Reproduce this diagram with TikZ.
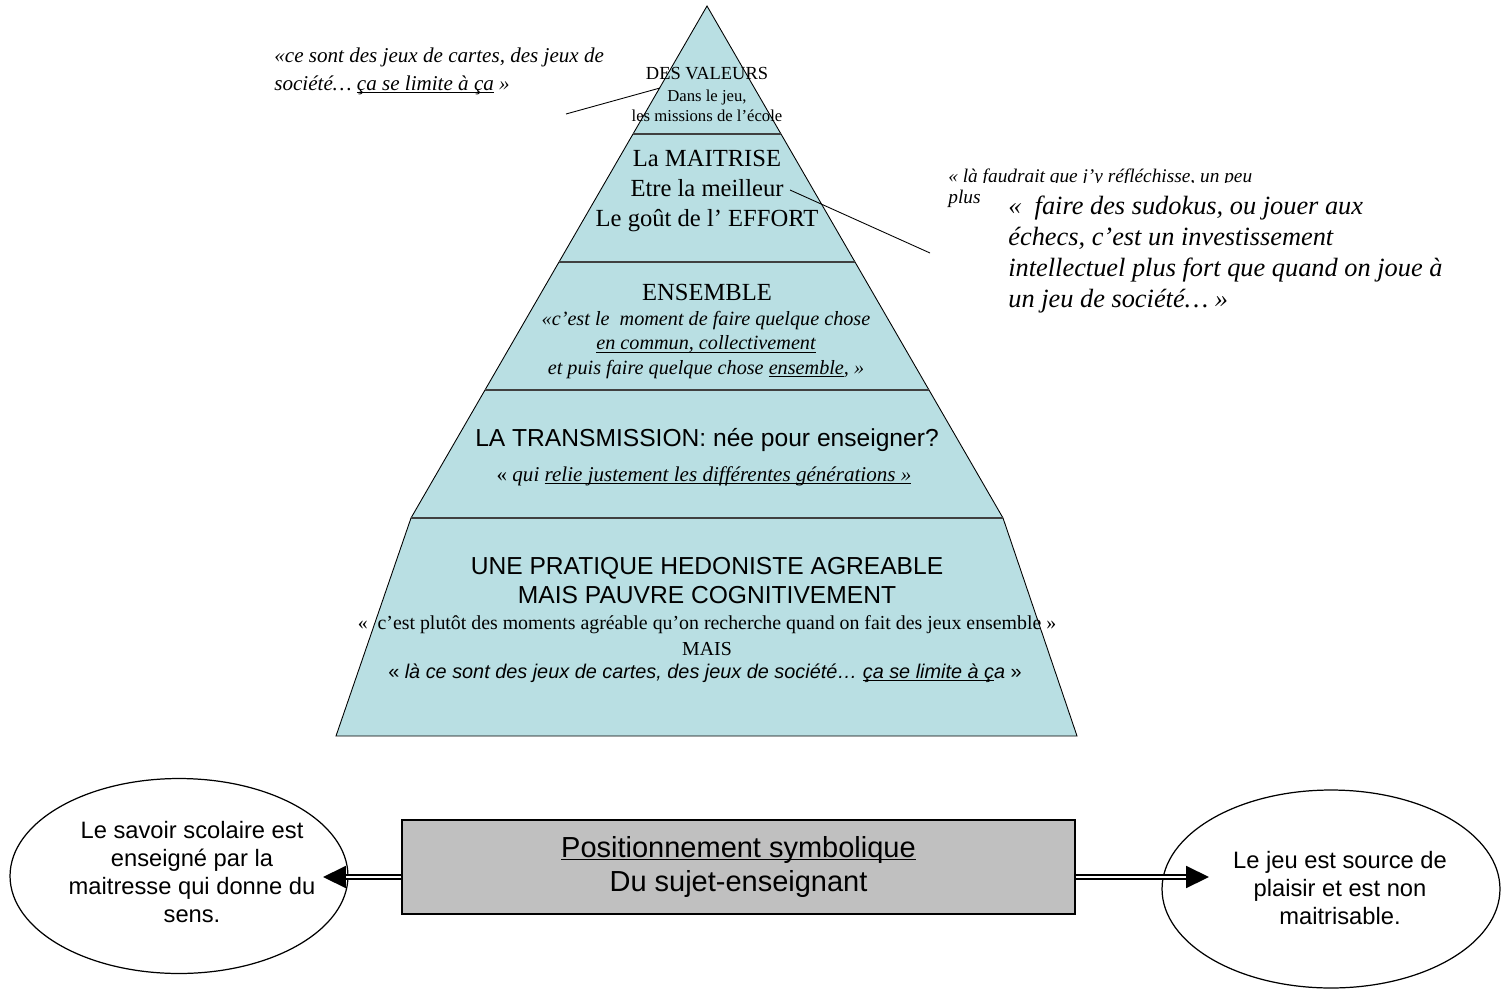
\documentclass[tikz,border=0pt]{standalone}
\usepackage{fontspec}
\setmainfont{Liberation Serif}
\setsansfont{Liberation Sans}
\usetikzlibrary{shapes.geometric,arrows.meta,positioning}
\definecolor{pyrblue}{RGB}{185,223,227}
\definecolor{boxgray}{RGB}{192,192,192}
\newcommand{\souligne}[1]{\setbox0\hbox{#1}\rlap{\rule[-1.6pt]{\wd0}{0.55pt}}\box0}

\begin{document}
\begin{tikzpicture}[x=0.02cm, y=-0.02cm,
    every node/.style={inner sep=0pt, align=center},
    pyrfill/.style={fill=pyrblue},
    edge/.style={draw=black, line width=0.5pt},
    band/.style={draw=black!75, line width=1.1pt},
    callout/.style={draw=black, line width=0.5pt},
    titre/.style={font=\fontsize{14}{17.1}\selectfont},
    citation/.style={font=\itshape\fontsize{11.5}{13.7}\selectfont},
    sanstitre/.style={font=\sffamily\fontsize{14}{16.5}\selectfont},
    bulle/.style={ellipse, draw=black, line width=0.7pt, fill=white, minimum width=6.76cm},
    bulletxt/.style={font=\sffamily\fontsize{13.5}{15.8}\selectfont},
    posbox/.style={draw=black, line width=0.8pt, fill=boxgray, minimum width=13.46cm, minimum height=1.88cm,
      font=\sffamily\fontsize{16.5}{19.4}\selectfont},
    dbl/.style={draw=black, double=white, double distance=1.3pt, line width=0.9pt,
      -{Triangle[length=13pt,width=12.5pt]}}]
  \useasboundingbox (0,0) rectangle (1511,990);

  % la pyramide
  \fill[pyrfill] (707,6) -- (1003,518) -- (411,518) -- cycle;
  \fill[pyrfill] (411,518) -- (1003,518) -- (1077,736) -- (336,736) -- cycle;
  \draw[edge] (411,518) -- (707,6) -- (1003,518);
  \draw[edge] (411,518) -- (336,736) -- (1077,736) -- (1003,518);
  \foreach \y in {134,262,390,518}
    \draw[band] ({707-0.578*(\y-6)},\y) -- ({707+0.578*(\y-6)},\y);

  % etages
  \node[font=\fontsize{10.5}{12}\selectfont] (valeurs) at (707,74) {DES VALEURS};
  \node[font=\fontsize{9.5}{11.2}\selectfont] (missions) at (707,106) {Dans le jeu,\\les missions de l’école};
  \node[titre] (maitrise) at (707,191) {La MAITRISE\\Etre la meilleur\\Le goût de l’ EFFORT};
  \node[titre] (ensemble) at (707,292) {ENSEMBLE};
  \node[citation] (commun) at (706,345) {«c’est le \ moment de faire quelque chose\\
    \souligne{en commun, collectivement}\\et puis faire quelque chose \souligne{ensemble}, »};
  \node[sanstitre] (transmission) at (707,440) {LA TRANSMISSION: née pour enseigner?};
  \node[citation, font=\itshape\fontsize{12}{14}\selectfont] (relie) at (704,476)
    {{\upshape\large«} qui \souligne{relie justement les différentes générations »}};
  \node[sanstitre] (hedoniste) at (707,581) {UNE PRATIQUE HEDONISTE AGREABLE\\MAIS PAUVRE COGNITIVEMENT};
  \node[font=\fontsize{11.3}{13}\selectfont] (plutot) at (707,625)
    {«\ \ c’est plutôt des moments agréable qu’on recherche quand on fait des jeux ensemble »};
  \node[font=\fontsize{11.3}{13}\selectfont] (mais) at (707,649) {MAIS};
  \node[font=\sffamily\fontsize{11.3}{13}\selectfont] (limite) at (705,673)
    {« \textit{là ce sont des jeux de cartes, des jeux de société… \souligne{ça se limite à ç}a} »};

  % citations autour
  \node[font=\itshape\fontsize{12}{15.4}\selectfont, anchor=north west, align=left] (cartes) at (274,48)
    {«ce sont des jeux de cartes, des jeux de\\société… \souligne{ça se limite à ça} \ »};
  \coordinate (c1a) at (566,114);
  \coordinate (c1b) at (660,88);
  \draw[callout] (c1a) -- (c1b);

  \begin{scope}
    \clip (940,160) rectangle (1300,182);
    \node[font=\itshape\fontsize{11}{13}\selectfont, anchor=base west] (reflechir) at (948,182)
      {« là faudrait que j’y réfléchisse, un peu};
  \end{scope}
  \node[font=\itshape\fontsize{11}{13}\selectfont, anchor=base west] (plus) at (948,203) {plus};
  \fill[white] (990,184) rectangle (1470,312);
  \node[font=\itshape\fontsize{15}{17.6}\selectfont, anchor=north west, align=left] (sudokus) at (1008,196)
    {« \ faire des sudokus, ou jouer aux\\échecs, c’est un investissement\\
     intellectuel plus fort que quand on joue à\\un jeu de société… »};
  \coordinate (c2a) at (790,190);
  \coordinate (c2b) at (930,253);
  \draw[callout] (c2a) -- (c2b);

  % positionnement
  \node[posbox] (pos) at (738.5,867) {\souligne{Positionnement symbolique}\\Du sujet-enseignant};
  \node[bulle, minimum height=3.9cm] (savoir) at (179,876) {};
  \node[bulletxt] (savoirtxt) at (192,872) {Le savoir scolaire est\\enseigné par la\\maitresse qui donne du\\sens.};
  \node[bulle, minimum height=3.96cm] (jeu) at (1331,889) {};
  \node[bulletxt] (jeutxt) at (1340,888) {Le jeu est source de\\plaisir et est non\\maitrisable.};
  \coordinate (ltip) at (323,877);
  \coordinate (rtip) at (1209,877);
  \draw[dbl] (pos.west |- ltip) -- (ltip);
  \draw[dbl] (pos.east |- rtip) -- (rtip);
\end{tikzpicture}
\end{document}
